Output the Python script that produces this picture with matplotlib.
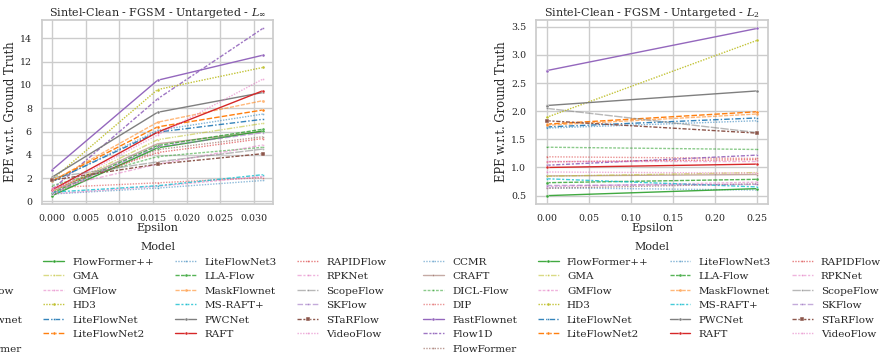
import matplotlib
matplotlib.use("Agg")
import matplotlib.pyplot as plt
import seaborn as sns

sns.set_theme(style="whitegrid")
plt.rcParams["font.family"] = ["DejaVu Serif"]
plt.rcParams["mathtext.fontset"] = "dejavuserif"

models = [
    "CCMR", "CRAFT", "DICL-Flow", "DIP", "FastFlownet", "Flow1D", "FlowFormer",
    "FlowFormer++", "GMA", "GMFlow", "HD3", "LiteFlowNet", "LiteFlowNet2",
    "LiteFlowNet3", "LLA-Flow", "MaskFlownet", "MS-RAFT+", "PWCNet", "RAFT",
    "RAPIDFlow", "RPKNet", "ScopeFlow", "SKFlow", "STaRFlow", "VideoFlow",
]

# EPE at epsilon = 0 (same for both attacks)
epe_clean = [0.64, 0.85, 1.36, 1.19, 2.72, 1.04, 0.63, 0.50, 0.845, 0.66, 1.89,
             1.72, 1.77, 1.70, 0.73, 1.75, 0.80, 2.10, 1.00, 1.10, 1.12, 2.05,
             0.68, 1.83, 0.92]
# L-inf attack at eps = 4/255 and 8/255
epe_linf_4 = [1.15, 4.95, 3.85, 1.60, 10.40, 8.80, 4.45, 4.60, 5.30, 1.30, 9.60,
              5.95, 6.40, 6.10, 4.80, 6.80, 1.35, 7.65, 5.95, 4.20, 3.20, 3.40,
              4.70, 3.20, 5.70]
epe_linf_8 = [1.80, 6.00, 4.65, 2.05, 12.55, 14.85, 5.55, 6.05, 6.70, 2.15, 11.50,
              7.05, 7.85, 7.50, 6.20, 8.65, 2.30, 9.35, 9.50, 5.40, 4.85, 4.50,
              5.90, 4.10, 10.50]
# L2 attack at eps = 0.25
epe_l2 = [0.60, 0.875, 1.32, 1.16, 3.47, 1.22, 0.71, 0.625, 0.91, 0.74, 3.26,
          1.88, 1.99, 1.83, 0.79, 1.95, 0.655, 2.36, 1.06, 1.14, 1.12, 1.62,
          0.70, 1.61, 0.90]

eps_linf = [0.0, 4 / 255, 8 / 255]
eps_l2 = [0.0, 0.25]

blue, orange, green, red = "#1f77b4", "#ff7f0e", "#2ca02c", "#d62728"
purple, brown, pink, gray = "#9467bd", "#8c564b", "#e377c2", "#7f7f7f"
olive, cyan = "#bcbd22", "#17becf"

dot = (1, 1)
dash = (4, 1.5)
dashdot = (3, 1.25, 1.5, 1.25)
dashdotdot = (4, 1, 1, 1, 1, 1)
solid = ()

# color, dashes, marker, alpha
styles = {
    "CCMR": (blue, dot, None, 0.5),
    "CRAFT": (brown, solid, None, 0.5),
    "DICL-Flow": (green, (2, 1), None, 0.55),
    "DIP": (red, dot, None, 0.5),
    "FastFlownet": (purple, solid, "o", 1.0),
    "Flow1D": (purple, dashdot, None, 0.9),
    "FlowFormer": (brown, dot, None, 0.6),
    "FlowFormer++": (green, solid, "o", 0.9),
    "GMA": (olive, dashdotdot, None, 0.55),
    "GMFlow": (pink, (2, 1), None, 0.55),
    "HD3": (olive, dot, "o", 0.9),
    "LiteFlowNet": (blue, (4, 1.5, 1, 1.5), None, 0.9),
    "LiteFlowNet2": (orange, dash, "o", 1.0),
    "LiteFlowNet3": (blue, dot, None, 0.55),
    "LLA-Flow": (green, (3, 1), "o", 0.8),
    "MaskFlownet": (orange, (3, 1), "o", 0.55),
    "MS-RAFT+": (cyan, dashdot, None, 0.8),
    "PWCNet": (gray, solid, "o", 1.0),
    "RAFT": (red, solid, "o", 1.0),
    "RAPIDFlow": (red, dot, None, 0.6),
    "RPKNet": (pink, dashdot, None, 0.55),
    "ScopeFlow": (gray, (6, 1), None, 0.55),
    "SKFlow": (purple, dash, None, 0.55),
    "STaRFlow": (brown, dashdot, "s", 1.0),
    "VideoFlow": (pink, dot, None, 0.6),
}

fig = plt.figure(figsize=(8.8, 3.6), dpi=100)
ax1 = fig.add_axes([0.0474, 0.4333, 0.2633, 0.5111])
ax2 = fig.add_axes([0.6091, 0.4333, 0.2636, 0.5111])


def draw(ax, xs, series, title):
    for i, name in enumerate(models):
        color, dashes, marker, alpha = styles[name]
        ys = [s[i] for s in series]
        line, = ax.plot(xs, ys, color=color, lw=1.0, alpha=alpha, label=name,
                        marker=marker or "o", ms=2.2 if marker else 1.4,
                        mec="white", mew=0.3)
        if dashes:
            line.set_dashes(dashes)
    ax.set_title(title, fontsize=8, pad=3)
    ax.set_xlabel("Epsilon", fontsize=8, labelpad=0)
    ax.set_ylabel("EPE w.r.t. Ground Truth", fontsize=8.3, labelpad=2)
    ax.tick_params(labelsize=6.8, pad=1)
    leg = ax.legend(title="Model", loc="upper center", bbox_to_anchor=(0.5, -0.184),
                    ncol=4, frameon=False, fontsize=7.5, title_fontsize=8,
                    handlelength=2.0, columnspacing=2.0, labelspacing=0.5,
                    borderaxespad=0)
    return leg


draw(ax1, eps_linf, [epe_clean, epe_linf_4, epe_linf_8],
     r"Sintel-Clean - FGSM - Untargeted - $L_\infty$")
draw(ax2, eps_l2, [epe_clean, epe_l2],
     r"Sintel-Clean - FGSM - Untargeted - $L_2$")
ax2.set_xticks([0, 0.05, 0.10, 0.15, 0.20, 0.25])

fig.savefig("out.png", dpi=100)
